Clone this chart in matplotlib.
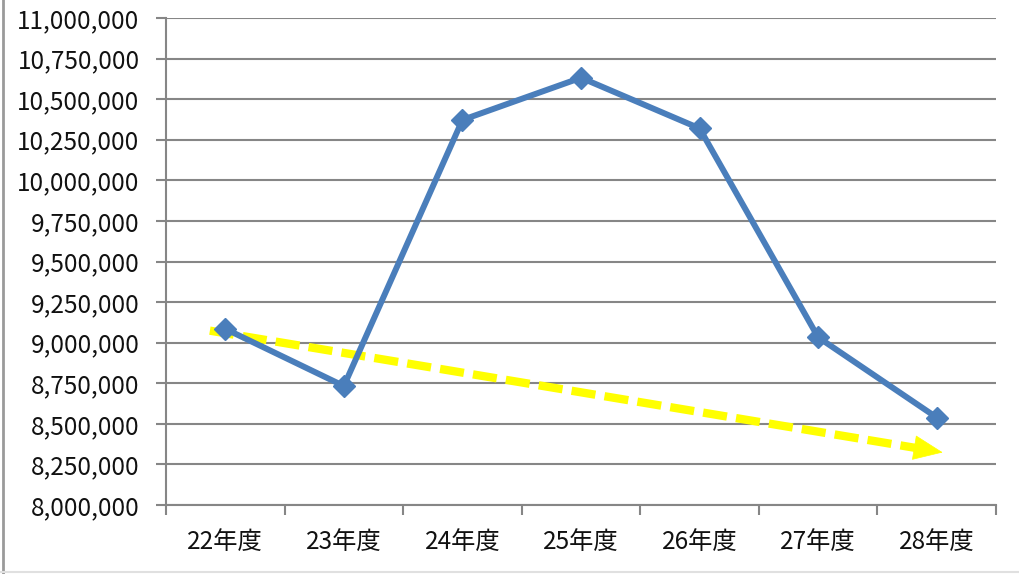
import matplotlib
matplotlib.use("Agg")
import matplotlib.pyplot as plt
from matplotlib.lines import Line2D
from matplotlib.ticker import FuncFormatter, MultipleLocator

plt.rcParams['font.family'] = ['Noto Sans CJK JP', 'DejaVu Sans']

# Fiscal years and yearly totals
years = ["22年度", "23年度", "24年度", "25年度", "26年度", "27年度", "28年度"]
totals = [9085000, 8733000, 10372000, 10632000, 10320000, 9033000, 8539000]

# Downward trend arrow (start and end, in axis units)
trend_x = [0.37, 6.55]
trend_y = [9074000, 8324000]

fig = plt.figure(figsize=(10.19, 5.74), dpi=100)
ax = fig.add_axes([166 / 1019, 1 - 505 / 574, 830 / 1019, 487 / 574])

grid_color = "#868686"
xpos = [i + 0.5 for i in range(len(years))]

ax.set_xlim(0, len(years))
ax.set_ylim(8000000, 11000000)
ax.yaxis.set_major_locator(MultipleLocator(250000))
ax.yaxis.set_major_formatter(FuncFormatter(lambda v, p: f"{int(v):,}"))
ax.set_xticks(range(len(years) + 1))
ax.set_xticklabels([])
ax.set_xticks(xpos, minor=True)
ax.set_xticklabels(years, minor=True)
ax.tick_params(axis="x", which="minor", length=0, pad=17, labelsize=17.5)
ax.tick_params(axis="x", which="major", length=7, width=1.5, color=grid_color, direction="out")
ax.tick_params(axis="y", length=7, width=1.5, color=grid_color, direction="out", labelsize=17.5, pad=12)
for lbl in ax.get_yticklabels() + ax.get_xticklabels(minor=True):
    lbl.set_color("#111111")

ax.grid(axis="y", color=grid_color, linewidth=1.5)
ax.set_axisbelow(True)
for side in ("top", "right"):
    ax.spines[side].set_visible(False)
for side in ("left", "bottom"):
    ax.spines[side].set_color(grid_color)
    ax.spines[side].set_linewidth(1.5)

# Trend arrow: dashed shaft plus solid head
head_frac = 0.035
sx = trend_x[0] + (trend_x[1] - trend_x[0]) * (1 - head_frac)
sy = trend_y[0] + (trend_y[1] - trend_y[0]) * (1 - head_frac)
ax.plot([trend_x[0], sx], [trend_y[0], sy], color="#FFFF00", linewidth=6,
        dashes=(2.9, 1.1), solid_capstyle="butt", dash_capstyle="butt", zorder=2)
ax.annotate("", xy=(trend_x[1], trend_y[1]), xytext=(sx, sy),
            arrowprops=dict(arrowstyle="-|>,head_length=2.0,head_width=0.85",
                            color="#FFFF00", lw=0.5, shrinkA=0, shrinkB=0),
            zorder=2)

ax.plot(xpos, totals, color="#4A7EBB", linewidth=4.3, marker="D", markersize=11,
        markerfacecolor="#4A7EBB", markeredgecolor="#4A7EBB", zorder=3)

# Outer frame edges
fig.add_artist(Line2D([3 / 1019, 3 / 1019], [0, 1], color="#9a9a9a", linewidth=2))
fig.add_artist(Line2D([0, 1], [2 / 574, 2 / 574], color="#e0e0e0", linewidth=1.5))

fig.savefig("out.png", dpi=100)
